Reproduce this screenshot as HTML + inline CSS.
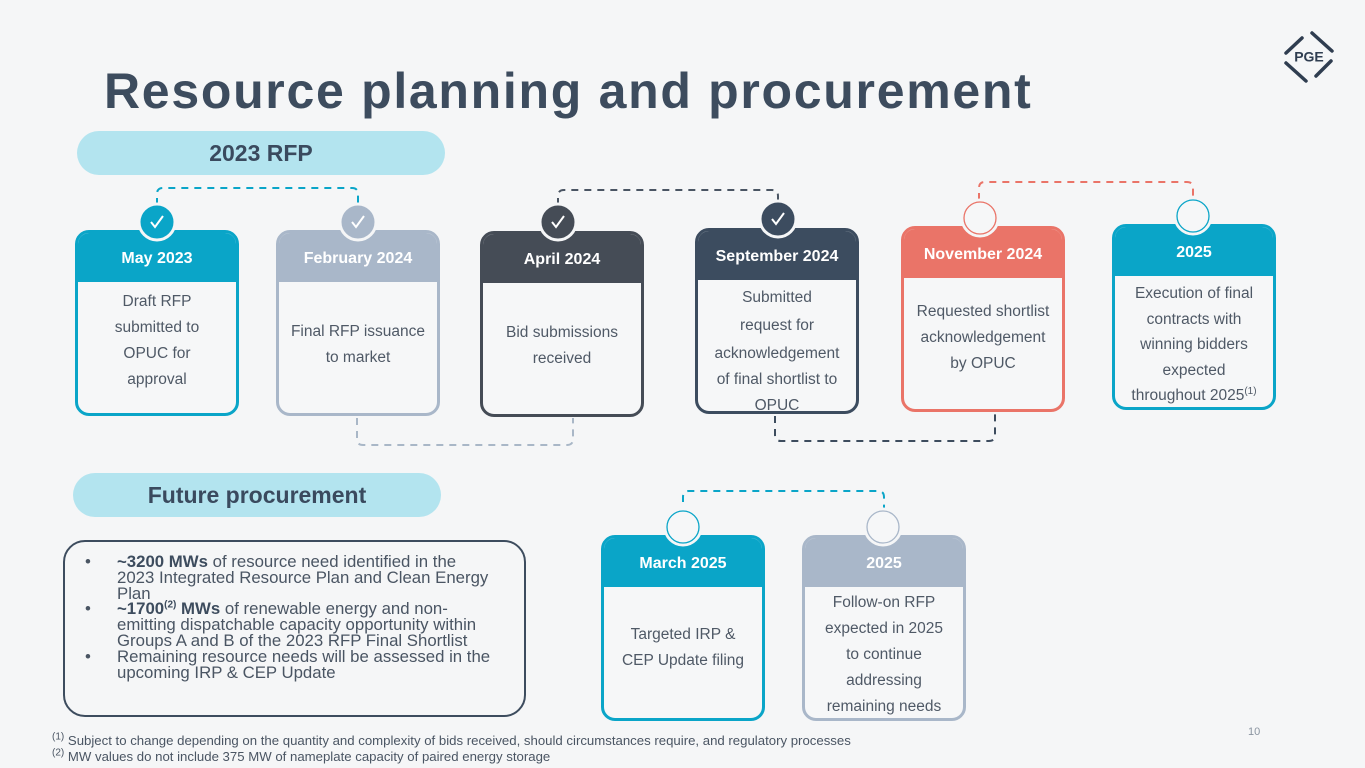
<!DOCTYPE html>
<html><head><meta charset="utf-8"><style>
*{margin:0;padding:0;box-sizing:border-box}
body{width:1365px;height:768px;background:#f5f6f7;position:relative;overflow:hidden;font-family:"Liberation Sans",sans-serif;color:#4a5563}
.abs{position:absolute}
.title{left:104px;top:62px;font-size:50px;font-weight:bold;color:#3d4c5e;letter-spacing:1.7px;white-space:nowrap}
.pill{position:absolute;background:#b3e4ef;border-radius:22px;color:#3a4a5e;font-weight:bold;font-size:23px;text-align:center;line-height:44px}
.card{position:absolute;width:164px;height:186px;border:3px solid;border-radius:14px;background:#f6f7f8;overflow:hidden}
.card .h{height:49px;color:#fff;font-weight:bold;font-size:16px;text-align:center;line-height:52px}
.card .b{position:absolute;left:0;right:0;text-align:center;font-size:15.5px;line-height:26px;color:#4f5966}
svg{position:absolute;left:0;top:0}
.box{left:63px;top:540px;width:463px;height:177px;border:2px solid #3d4c5e;border-radius:22px}
.box ul{list-style:none;position:absolute;left:20px;top:12px;width:430px;font-size:16.8px;line-height:15.8px;color:#4a5563;white-space:nowrap}
.box li{position:relative;padding-left:32px}
.box li:before{content:"•";position:absolute;left:0;top:0}
.box b{color:#3d4c5e}
sup{font-size:10px;line-height:0}
.fn{left:52px;font-size:13.2px;color:#4a5563;white-space:nowrap}
</style></head><body>
<div class="abs title">Resource planning and procurement</div>
<div class="pill" style="left:77px;top:131px;width:368px;height:44px">2023 RFP</div>
<div class="pill" style="left:73px;top:473px;width:368px;height:44px">Future procurement</div>

<svg width="1365" height="768">
<g fill="none" stroke-width="2" stroke-dasharray="7,6">
<path d="M157 205 V194 Q157 188 163 188 H352 Q358 188 358 194 V205" stroke="#0aa5c8"/>
<path d="M558 205 V196 Q558 190 564 190 H772 Q778 190 778 196 V205" stroke="#4a5563"/>
<path d="M979 200 V188 Q979 182 985 182 H1187 Q1193 182 1193 188 V200" stroke="#ea7468"/>
<path d="M357 418 V439 Q357 445 363 445 H567 Q573 445 573 439 V418" stroke="#a9b7c7"/>
<path d="M775 416 V435 Q775 441 781 441 H989 Q995 441 995 435 V412" stroke="#3d4c5e"/>
<path d="M683 515 V497 Q683 491 689 491 H878 Q884 491 884 497 V510" stroke="#0aa5c8"/>
</g>
</svg>

<div class="card" style="left:75px;top:230px;border-color:#0aa5c8"><div class="h" style="background:#0aa5c8">May 2023</div><div class="b" style="top:56px">Draft RFP<br>submitted to<br>OPUC for<br>approval</div></div>
<div class="card" style="left:276px;top:230px;border-color:#a9b7c9"><div class="h" style="background:#a9b7c9">February 2024</div><div class="b" style="top:86px">Final RFP issuance<br>to market</div></div>
<div class="card" style="left:480px;top:231px;border-color:#454c56"><div class="h" style="background:#454c56">April 2024</div><div class="b" style="top:86px">Bid submissions<br>received</div></div>
<div class="card" style="left:695px;top:228px;border-color:#3c4c5f"><div class="h" style="background:#3c4c5f">September 2024</div><div class="b" style="top:54px;line-height:26px">Submitted<br><span style="line-height:30px">request for</span><br>acknowledgement<br>of final shortlist to<br>OPUC</div></div>
<div class="card" style="left:901px;top:226px;border-color:#ea7468"><div class="h" style="background:#ea7468">November 2024</div><div class="b" style="top:70px">Requested shortlist<br>acknowledgement<br>by OPUC</div></div>
<div class="card" style="left:1112px;top:224px;border-color:#0aa5c8"><div class="h" style="background:#0aa5c8">2025</div><div class="b" style="top:54px;line-height:25.5px">Execution of final<br>contracts with<br>winning bidders<br>expected<br>throughout 2025<sup>(1)</sup></div></div>
<div class="card" style="left:601px;top:535px;border-color:#0aa5c8"><div class="h" style="background:#0aa5c8">March 2025</div><div class="b" style="top:84px">Targeted IRP &amp;<br>CEP Update filing</div></div>
<div class="card" style="left:802px;top:535px;border-color:#a9b7c9"><div class="h" style="background:#a9b7c9">2025</div><div class="b" style="top:52px">Follow-on RFP<br>expected in 2025<br>to continue<br>addressing<br>remaining needs</div></div>

<svg width="1365" height="768">
<g stroke="#f5f6f7" stroke-width="3">
<circle cx="157" cy="222" r="18" fill="#0aa5c8"/>
<circle cx="358" cy="222" r="18" fill="#a9b7c9"/>
<circle cx="558" cy="222" r="18" fill="#454c56"/>
<circle cx="778" cy="219" r="18" fill="#3c4c5f"/>
</g>
<g fill="none" stroke="#fff" stroke-width="2">
<path d="M151 222 l4 5 l8 -11"/><path d="M352 222 l4 5 l8 -11"/><path d="M552 222 l4 5 l8 -11"/><path d="M772 219 l4 5 l8 -11"/>
</g>
<circle cx="980" cy="218" r="18" fill="#f5f6f7" stroke="#f5f6f7" stroke-width="3"/>
<circle cx="980" cy="218" r="16" fill="#f6f7f8" stroke="#ea7468" stroke-width="1.3"/>
<circle cx="1193" cy="216" r="18" fill="#f5f6f7" stroke="#f5f6f7" stroke-width="3"/>
<circle cx="1193" cy="216" r="16" fill="#f6f7f8" stroke="#0aa5c8" stroke-width="1.3"/>
<circle cx="683" cy="527" r="18" fill="#f5f6f7" stroke="#f5f6f7" stroke-width="3"/>
<circle cx="683" cy="527" r="16" fill="#f6f7f8" stroke="#0aa5c8" stroke-width="1.3"/>
<circle cx="883" cy="527" r="18" fill="#f5f6f7" stroke="#f5f6f7" stroke-width="3"/>
<circle cx="883" cy="527" r="16" fill="#f6f7f8" stroke="#a9b7c9" stroke-width="1.3"/>
<g stroke="#2f3d50" stroke-width="3.5" stroke-linecap="round" fill="none">
<path d="M1312 33 L1332 51"/><path d="M1286 63 L1306 81"/><path d="M1302 38 L1286 53"/><path d="M1316 76 L1331 61"/>
</g>
<text x="1309" y="58" font-family="Liberation Sans" font-weight="bold" font-size="14" fill="#2f3d50" text-anchor="middle" dominant-baseline="middle">PGE</text>
</svg>

<div class="abs box"><ul>
<li><b>~3200 MWs</b> of resource need identified in the<br>2023 Integrated Resource Plan and Clean Energy<br>Plan</li>
<li><b>~1700<sup>(2)</sup> MWs</b> of renewable energy and non-<br>emitting dispatchable capacity opportunity within<br>Groups A and B of the 2023 RFP Final Shortlist</li>
<li>Remaining resource needs will be assessed in the<br>upcoming IRP &amp; CEP Update</li>
</ul></div>

<div class="abs fn" style="top:733px"><sup>(1)</sup> Subject to change depending on the quantity and complexity of bids received, should circumstances require, and regulatory processes</div>
<div class="abs fn" style="top:749px"><sup>(2)</sup> MW values do not include 375 MW of nameplate capacity of paired energy storage</div>
<div class="abs" style="left:1248px;top:726px;font-size:11px;color:#8a94a0">10</div>
</body></html>
